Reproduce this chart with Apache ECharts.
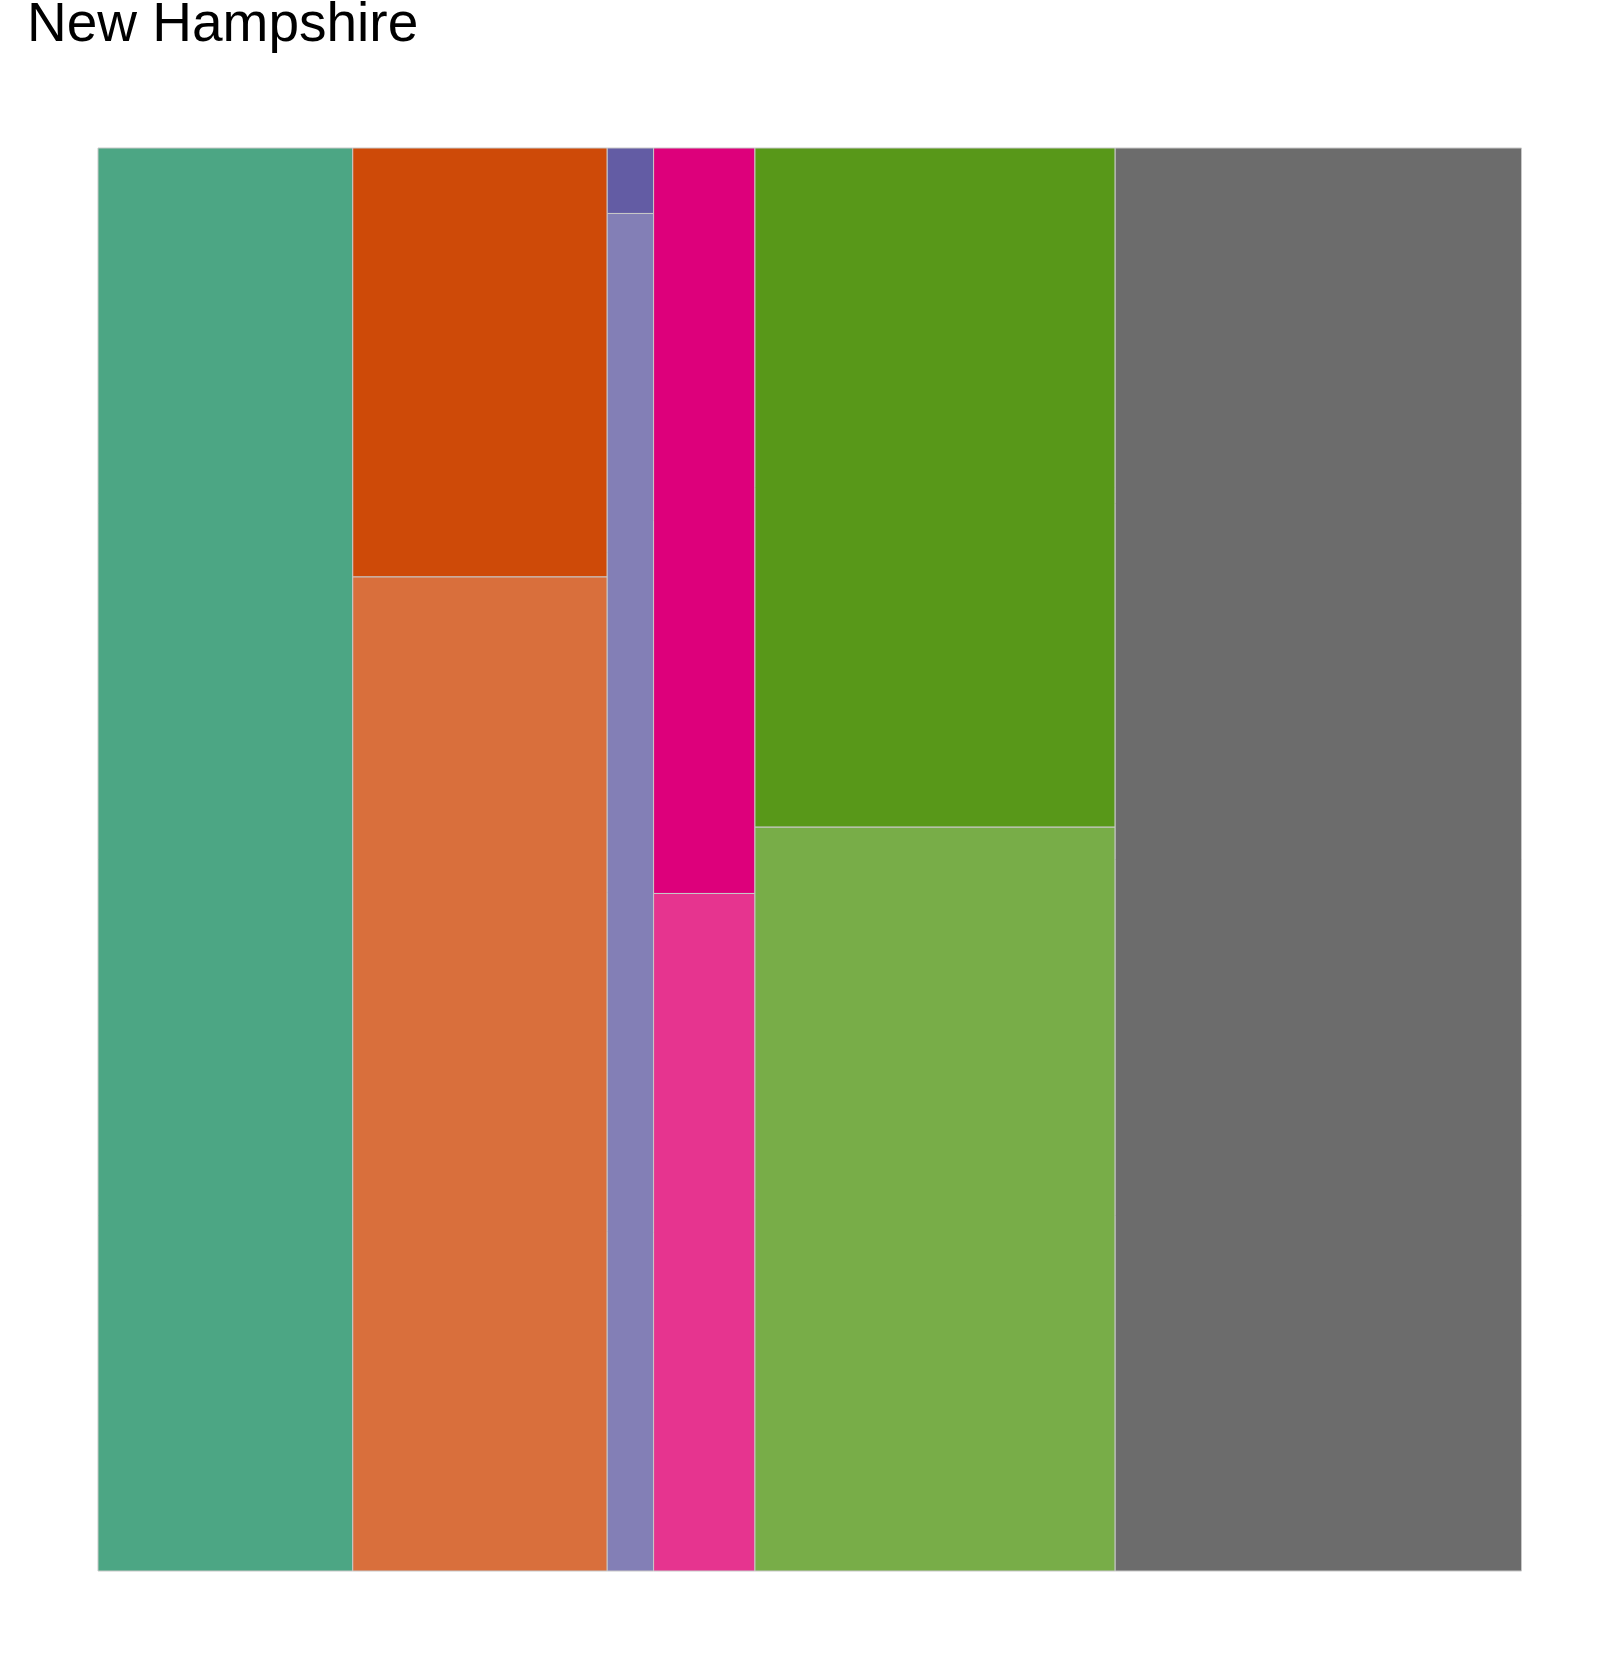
<!DOCTYPE html>
<html>
<head>
<meta charset="utf-8">
<script src="https://cdn.jsdelivr.net/npm/echarts@6/dist/echarts.min.js"></script>
<style>html,body{margin:0;padding:0;background:#fff}#c{width:1608px;height:1654px}</style>
</head>
<body>
<div id="c"></div>
<script>
// Groups (columns) in order, and their sub-part values (share of total, %)
const groups = ['Group 1', 'Group 2', 'Group 3', 'Group 4', 'Group 5', 'Group 6'];
const partValues = [
  [17.90],
  [5.39, 12.49],
  [0.15, 3.11],
  [3.73, 3.39],
  [12.08, 13.23],
  [28.55]
];
const partColors = [
  ['#4ca684'],
  ['#ce4a08', '#d96f3c'],
  ['#635ca4', '#837fb6'],
  ['#dd007b', '#e6348f'],
  ['#589819', '#78ad48'],
  ['#6c6c6c']
];

const totals = partValues.map(p => p.reduce((a, b) => a + b, 0));
const grand = totals.reduce((a, b) => a + b, 0);
const rects = [];
let xc = 0;
partValues.forEach((parts, gi) => {
  let yc = 0;
  parts.forEach((v, pi) => {
    const f = v / totals[gi];
    rects.push({ value: [xc, xc + totals[gi], yc, yc + f, gi, pi], name: groups[gi] });
    yc += f;
  });
  xc += totals[gi];
});

const chart = echarts.init(document.getElementById('c'));
chart.setOption({
  animation: false,
  title: {
    text: 'New Hampshire',
    left: 22, top: -7,
    textStyle: { fontFamily: 'Liberation Sans, Arial, sans-serif', fontSize: 55, fontWeight: 'normal', color: '#000' }
  },
  grid: { left: 98, top: 148, width: 1423.5, height: 1423 },
  xAxis: { type: 'value', min: 0, max: grand, show: false },
  yAxis: { type: 'value', min: 0, max: 1, inverse: true, show: false },
  series: [{
    type: 'custom',
    data: rects,
    renderItem: function (params, api) {
      const p0 = api.coord([api.value(0), api.value(2)]);
      const p1 = api.coord([api.value(1), api.value(3)]);
      const gi = api.value(4), pi = api.value(5);
      return {
        type: 'rect',
        shape: { x: p0[0], y: p0[1], width: p1[0] - p0[0], height: p1[1] - p0[1] },
        style: { fill: partColors[gi][pi], stroke: '#c8c8c8', lineWidth: 1 }
      };
    }
  }]
});
</script>
</body>
</html>
